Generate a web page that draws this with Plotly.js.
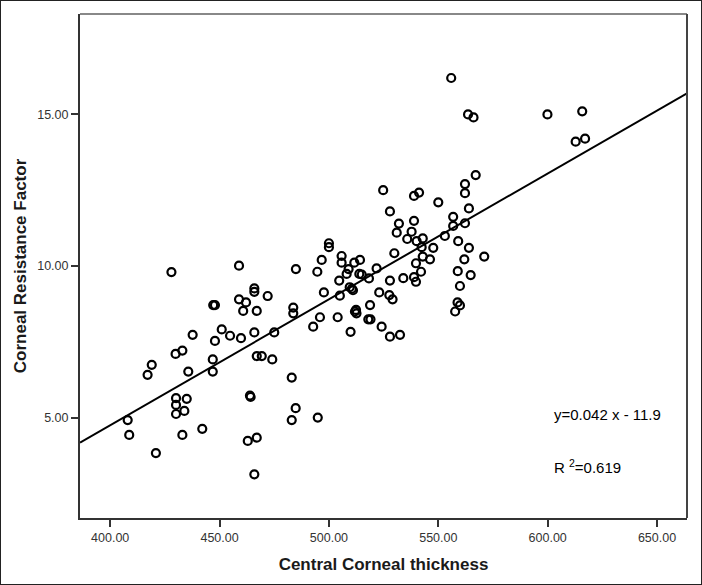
<!DOCTYPE html>
<html>
<head>
<meta charset="utf-8">
<script src="https://cdn.plot.ly/plotly-3.0.1.min.js"></script>
<style>
  html, body { margin: 0; padding: 0; background: #fff; }
  #chart { width: 700px; height: 583px; border: 1px solid #222; }
</style>
</head>
<body>
<div id="chart"></div>
<script>
// Central Corneal thickness (x) vs Corneal Resistance Factor (y)
const cctValues = [
  555.9, 563.6, 566.1, 599.9, 615.8, 612.8, 617.1, 567.1, 562.2, 562.2,
  564.0, 524.8, 538.9, 541.2, 550.0, 527.9, 538.9, 532.0, 531.0, 556.8,
  556.8, 562.2, 553.0, 535.8, 537.8, 542.9, 540.1, 559.1, 547.7, 564.0,
  542.4, 529.9, 571.0, 561.9, 546.2, 539.8, 542.9, 542.1, 538.9, 539.8,
  534.0, 558.9, 564.8, 559.9, 558.8, 559.9, 557.7, 527.9, 521.8, 527.6,
  529.1, 523.0, 518.8, 518.0, 519.0, 524.1, 527.9, 532.5, 512.4, 512.6,
  511.9, 509.9, 504.0, 505.0, 509.5, 510.5, 511.0, 518.3, 513.9, 515.0,
  504.7, 508.1, 509.0, 505.8, 505.8, 511.6, 514.2, 500.0, 500.0, 496.7,
  494.7, 497.7, 495.9, 492.8, 483.7, 483.7, 484.9, 483.0, 484.8, 483.0,
  494.9, 475.0, 474.1, 472.0, 467.0, 465.9, 465.9, 465.9, 467.0, 469.3,
  463.9, 462.9, 467.0, 465.9, 458.9, 458.9, 462.1, 460.8, 459.8, 454.8,
  451.0, 447.1, 447.9, 447.9, 446.9, 446.9, 437.7, 435.7, 433.0, 429.9,
  428.0, 419.0, 417.1, 430.1, 430.1, 430.1, 433.9, 435.0, 433.0, 442.1,
  420.9, 408.0, 408.7, 464.2
];
const crfValues = [
  16.2, 15.0, 14.9, 15.0, 15.1, 14.1, 14.2, 13.0, 12.7, 12.4,
  11.9, 12.5, 12.31, 12.42, 12.1, 11.8, 11.49, 11.4, 11.1, 11.62,
  11.32, 11.41, 10.99, 10.89, 11.13, 10.91, 10.82, 10.82, 10.6, 10.6,
  10.62, 10.42, 10.31, 10.22, 10.22, 10.09, 10.31, 9.81, 9.63, 9.48,
  9.6, 9.83, 9.7, 9.34, 8.8, 8.7, 8.5, 9.52, 9.92, 9.04,
  8.9, 9.13, 8.71, 8.24, 8.24, 8.0, 7.67, 7.73, 8.55, 8.44,
  8.5, 7.83, 8.31, 9.02, 9.3, 9.25, 9.2, 9.59, 9.74, 9.72,
  9.52, 9.74, 9.9, 10.11, 10.33, 10.11, 10.2, 10.75, 10.62, 10.2,
  9.81, 9.13, 8.31, 8.0, 8.63, 8.44, 9.9, 6.32, 5.31, 4.92,
  5.0, 7.81, 6.92, 9.01, 8.52, 7.81, 9.26, 9.15, 7.03, 7.03,
  5.73, 4.23, 4.34, 3.13, 10.01, 8.9, 8.80, 8.52, 7.62, 7.70,
  7.91, 8.71, 8.71, 7.53, 6.92, 6.52, 7.73, 6.52, 7.21, 7.10,
  9.8, 6.74, 6.41, 5.64, 5.42, 5.12, 5.22, 5.62, 4.43, 4.63,
  3.83, 4.92, 4.43, 5.68
];
// Fit line coefficients (label rounds them to 0.042 and 11.9)
const fitSlope = 0.0415;
const fitIntercept = -11.85;
const xRange = [386.2, 663.7];
const yRange = [1.69, 18.31];
const xTicks = [400, 450, 500, 550, 600, 650];
const yTicks = [5, 10, 15];
const eqLabel = 'y=0.042 x - 11.9';
const r2Label = 'R <sup>2</sup>=0.619';

const fitX = xRange.slice();
const fitY = fitX.map(v => fitSlope * v + fitIntercept);

const traces = [
  {
    x: fitX, y: fitY, type: 'scatter', mode: 'lines',
    line: { color: '#000', width: 2 }, hoverinfo: 'skip', showlegend: false
  },
  {
    x: cctValues, y: crfValues, type: 'scatter', mode: 'markers',
    marker: { symbol: 'circle-open', size: 8, color: '#000', line: { width: 2.2, color: '#000' } },
    showlegend: false
  }
];

const axisFont = { family: 'Liberation Sans, Arial, sans-serif', size: 12.5, color: '#333' };
const titleFont = { family: 'Liberation Sans, Arial, sans-serif', size: 17, color: '#1a1a1a', weight: 'bold' };
const noteFont = { family: 'Liberation Sans, Arial, sans-serif', size: 15, color: '#000' };

const layout = {
  width: 700, height: 583,
  margin: { l: 79, r: 14, t: 13, b: 66 },
  paper_bgcolor: '#fff', plot_bgcolor: '#fff',
  showlegend: false,
  xaxis: {
    range: xRange, tickvals: xTicks, tickformat: '.2f',
    showgrid: false, zeroline: false,
    showline: true, linecolor: '#333', linewidth: 2,
    ticks: 'outside', ticklen: 7, tickwidth: 2, tickcolor: '#333',
    tickfont: axisFont,
    title: { text: '<b>Central Corneal thickness</b>', font: titleFont, standoff: 14 }
  },
  yaxis: {
    range: yRange, tickvals: yTicks, tickformat: '.2f',
    showgrid: false, zeroline: false,
    showline: true, linecolor: '#333', linewidth: 2,
    ticks: 'outside', ticklen: 7, tickwidth: 2, tickcolor: '#333',
    tickfont: axisFont,
    title: { text: '<b>Corneal Resistance Factor</b>', font: titleFont, standoff: 6 }
  },
  shapes: [
    { type: 'line', xref: 'paper', yref: 'paper', x0: 0, x1: 1, y0: 1, y1: 1, line: { color: '#888', width: 2 } },
    { type: 'line', xref: 'paper', yref: 'paper', x0: 1, x1: 1, y0: 0, y1: 1, line: { color: '#444', width: 2 } }
  ],
  annotations: [
    { x: 0.778, y: 5.1, xref: 'paper', yref: 'y', xanchor: 'left', yanchor: 'middle', showarrow: false,
      text: eqLabel, font: noteFont },
    { x: 0.778, y: 3.38, xref: 'paper', yref: 'y', xanchor: 'left', yanchor: 'middle', showarrow: false,
      text: r2Label, font: noteFont }
  ]
};

Plotly.newPlot('chart', traces, layout, { displayModeBar: false, staticPlot: true });
</script>
</body>
</html>
